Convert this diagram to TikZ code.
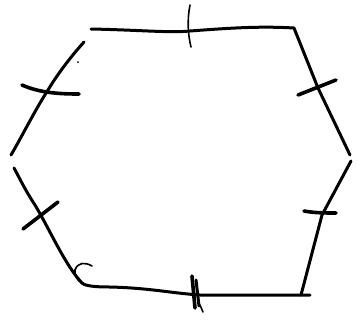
\documentclass[tikz,border=0pt]{standalone}
\begin{document}
\begin{tikzpicture}[x=1pt,y=-1pt,
  edge/.style={line width=3pt,line cap=round,line join=round},
  tick/.style={line width=3.6pt,line cap=round},
  thin/.style={line width=1.6pt,line cap=round}]
\useasboundingbox (0,0) rectangle (358,327);
% vertices
\coordinate (A) at (91,29);
\coordinate (B) at (294,28);
\coordinate (C) at (350,155);
\coordinate (D) at (351,161);
\coordinate (E) at (301,295);
\coordinate (F) at (82,283);
\coordinate (G) at (14,168);
\coordinate (H) at (11,155);
\coordinate (I) at (84,42);
% edges
\draw[edge] (A) .. controls (140,30) and (170,33) .. (190,31) .. controls (230,28) and (260,26) .. (B);
\draw[edge] (B) -- (318,88) -- (C);
\draw[edge] (D) -- (322,215) -- (E);
\draw[edge] (310,295) -- (200,295) .. controls (170,293) and (150,288) .. (110,287) .. controls (95,287) and (85,286) .. (F);
\draw[edge] (F) .. controls (65,265) and (50,230) .. (35,205) .. controls (25,190) and (18,175) .. (G);
\draw[edge] (H) .. controls (20,140) and (35,110) .. (48,90) .. controls (60,70) and (75,52) .. (I);
% ticks
\draw[thin] (190,5) .. controls (187,20) and (188,35) .. (191,47);
\draw[tick] (298,95) -- (336,80);
\draw[tick] (304,211) .. controls (315,213) and (325,213) .. (336,213);
\draw[tick] (23,229) -- (58,202);
\draw[tick] (22,85) .. controls (40,93) and (60,94) .. (79,94);
\draw[tick] (192,276) -- (195,308);
\draw[edge] (196,280) -- (199,306);
\draw[thin] (200,305) -- (203,312);
% hook and dot
\draw[thin] (92,266) .. controls (85,262) and (78,262) .. (75,270) .. controls (74,276) and (78,281) .. (82,283);
\fill (78,62) circle (1);
\end{tikzpicture}
\end{document}
